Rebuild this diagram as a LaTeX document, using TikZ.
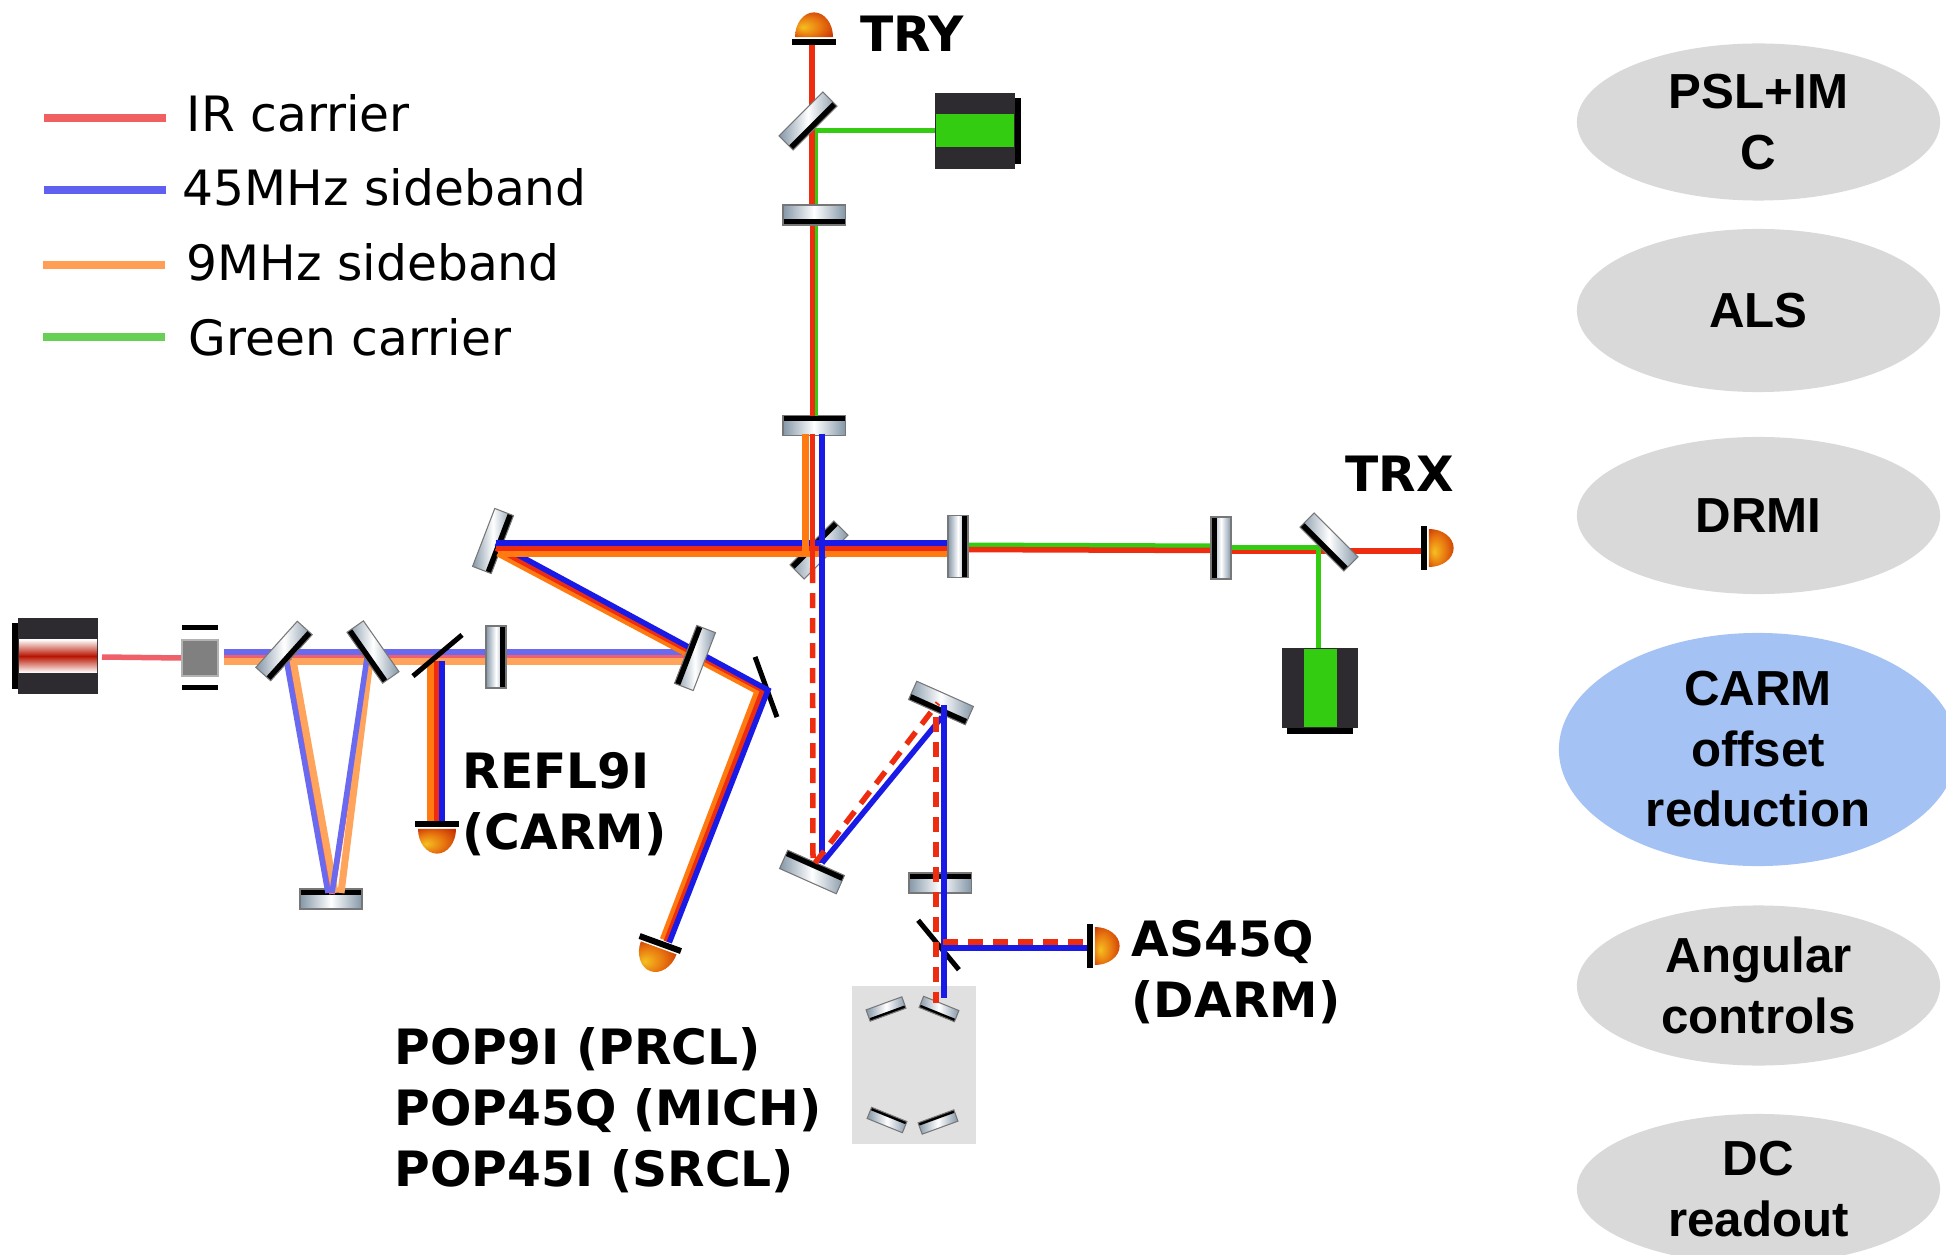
\documentclass[tikz,border=0pt]{standalone}
\usepackage{fontspec}
\setmainfont{DejaVu Sans}
\newfontfamily\taskfont{Liberation Sans}
\usepackage{xcolor}
\usepackage{tikz}
\usetikzlibrary{positioning,calc,shapes.geometric}
\definecolor{irdeep}{HTML}{EE2D10}
\definecolor{bluedeep}{HTML}{1A1AE6}
\definecolor{orangedeep}{HTML}{FF7A10}
\definecolor{irlight}{HTML}{F0606A}
\definecolor{bluelight}{HTML}{6A6AF0}
\definecolor{orangelight}{HTML}{FFA45C}
\definecolor{greenbeam}{HTML}{33CC10}
\definecolor{legred}{HTML}{F06060}
\definecolor{legblue}{HTML}{6060F0}
\definecolor{legorange}{HTML}{FF9E55}
\definecolor{leggreen}{HTML}{66D055}
\definecolor{mirrorgray}{HTML}{8497A8}
\definecolor{mirrorline}{HTML}{777777}
\definecolor{laserbody}{HTML}{2D2A30}
\definecolor{laserred}{HTML}{B81400}
\definecolor{taskgray}{HTML}{D9D9D9}
\definecolor{taskblue}{HTML}{A4C2F4}
\definecolor{domeyellow}{HTML}{F5C020}
\definecolor{domeorange}{HTML}{E87810}
\definecolor{domered}{HTML}{C02000}
\pgfdeclareradialshading{dome}{\pgfpoint{-15bp}{-5bp}}{color(0bp)=(domeyellow);color(18bp)=(domeorange);color(40bp)=(domered);color(50bp)=(domered)}
\pgfdeclarelayer{under}
\pgfdeclarelayer{over}
\pgfsetlayers{under,main,over}
\tikzset{mirror/.style={rectangle,draw=mirrorline,line width=.3pt,left color=mirrorgray,right color=mirrorgray,middle color=white,minimum width=.62cm,minimum height=.2cm,inner sep=0pt,path picture={\fill[black] (-1cm,-1cm) rectangle (1cm,#1);}},
    mirror/.default=-.04cm,
    small mirror/.style={mirror=-.03cm,minimum width=.38cm,minimum height=.12cm},
    thin mirror/.style={rectangle,fill=black,minimum width=.64cm,minimum height=.05cm,inner sep=0pt},
    detector/.style={semicircle,shade,shading=dome,minimum width=.38cm,inner sep=0pt,anchor=chord center,rotate=#1,yscale=1.3,transform shape},
    det bar/.style={rectangle,fill=black,minimum width=.44cm,minimum height=.06cm,inner sep=0pt,anchor=north},
    eom bar/.style={rectangle,fill=black,minimum width=.35cm,minimum height=.05cm,inner sep=0pt},
    ir/.style={draw=irdeep,line width=.055cm},
    ir dash/.style={draw=irdeep,line width=.055cm,dash pattern=on .15cm off .1cm},
    sb45/.style={draw=bluedeep,line width=.055cm},
    sb9/.style={draw=orangedeep,line width=.07cm},
    ir soft/.style={draw=irlight,line width=.055cm},
    sb45 soft/.style={draw=bluelight,line width=.055cm},
    sb9 soft/.style={draw=orangelight,line width=.07cm},
    green/.style={draw=greenbeam,line width=.05cm},
    legend line/.style={line width=.08cm},
    legend text/.style={anchor=base west,inner sep=0pt,font=\fontsize{13.85pt}{17pt}\selectfont},
    tag/.style={anchor=base west,inner sep=0pt,font=\fontsize{13.85pt}{17pt}\selectfont\bfseries},
    task/.style={ellipse,fill=taskgray,minimum width=3.63cm,minimum height=1.57cm,inner sep=-.2cm,align=center,font=\taskfont\fontsize{14pt}{17.2pt}\selectfont\bfseries},
    red band/.style={top color=white,bottom color=white,middle color=laserred},
    green band/.style={fill=greenbeam},
    pics/laser/.style={code={
        \fill[laserbody] (-40,-38) rectangle (40,38);
        \fill[black] (-46,-33) rectangle (-40,33);
        \path[#1] (-39,-16.5) rectangle (39,16.5);
        \coordinate (-out) at (40,0);
    }},
}
\begin{document}
\begin{tikzpicture}[x=.01cm,y=.01cm]
    \useasboundingbox (0,0) rectangle (1946,-1255);

    \begin{pgfonlayer}{under}
    \node[rectangle,fill=black!12,minimum width=1.24cm,minimum height=1.58cm,inner sep=0pt] (omcbox) at (914,-1065) {};
    \node[mirror,rotate=180] (itmy) at (814,-425.5) {};
    \node[mirror,rotate=225] (bs) at (819,-550) {};
    \node[mirror,rotate=69] (pr2) at (493,-541) {};
    \node[thin mirror,rotate=-70] (steer) at (766,-687) {};
    \node[mirror,rotate=156] (sr2) at (812,-872) {};
    \node[mirror,rotate=-24] (sr3) at (941,-703) {};
    \node[mirror,rotate=180] (omi) at (940,-883) {};
    \node[thin mirror,rotate=-50.5] (opick) at (938.5,-945) {};
    \node[small mirror,rotate=20] (omc1) at (886,-1009) {};
    \node[small mirror,rotate=-22] (omc2) at (939,-1009) {};
    \node[small mirror,rotate=158] (omc3) at (887,-1120) {};
    \node[small mirror,rotate=200] (omc4) at (938,-1122) {};
    \node[mirror,rotate=180] (mc2) at (331,-899) {};
    \end{pgfonlayer}

    \begin{pgfonlayer}{over}
    \pic (lm) at (58,-656) {laser=red band};
    \pic[rotate=180] (ly) at (975,-131) {laser=green band};
    \pic[rotate=90] (lx) at (1320,-688) {laser=green band};
    \node[rectangle,fill=gray,draw=black!30,line width=.3pt,minimum size=.36cm,inner sep=0pt] (eom) at (200,-658) {};
    \node[eom bar,above=.09cm of eom] (eomt) {};
    \node[eom bar,below=.08cm of eom] (eomb) {};
    \node[mirror,rotate=48] (mc1) at (284,-651) {};
    \node[mirror,rotate=-55] (mc3) at (373,-652) {};
    \node[thin mirror,rotate=40] (pick) at (437.5,-655.5) {};
    \node[mirror,rotate=90] (mmt) at (496,-657) {};
    \node[mirror,rotate=249] (prm) at (695,-658) {};
    \node[mirror,rotate=45] (tbsy) at (808,-121) {};
    \node[mirror] (etmy) at (814,-215) {};
    \node[mirror,rotate=90] (itmx) at (958,-546.5) {};
    \node[mirror,rotate=270] (etmx) at (1221,-548) {};
    \node[mirror,rotate=-45] (tbsx) at (1329,-542) {};

    \node[detector=0] (dtry) at (814,-38) {};
    \node[det bar] (btry) at (dtry.chord center) {};
    \node[detector=-90] (dtrx) at (1428,-548) {};
    \node[det bar,rotate=-90] (btrx) at (dtrx.chord center) {};
    \node[detector=180] (drefl) at (437,-828) {};
    \node[det bar,rotate=180] (brefl) at (drefl.chord center) {};
    \node[detector=160] (dpop) at (659,-947) {};
    \node[det bar,rotate=160] (bpop) at (dpop.chord center) {};
    \node[detector=-90] (das) at (1094,-946) {};
    \node[det bar,rotate=-90] (bas) at (das.chord center) {};
    \end{pgfonlayer}

    \draw[ir soft] ($(lm-out)+(4,-1)$) -- (eom.west);
    \draw[ir soft] ($(eom.east)+(5,1)$) -- ($(prm)+(-5,1)$);
    \draw[sb45 soft] ($(eom.east)+(5,6)$) -- ($(prm)+(-5,6)$);
    \draw[sb9 soft] ($(eom.east)+(5,-3)$) -- ($(prm)+(-5,-3)$);

    \draw[ir soft] ($(mc1)+(5,-8)$) -- ($(mc2)+(1,5)$);
    \draw[ir soft] ($(mc2)+(1,5)$) -- ($(mc3)+(-4.5,-7)$);
    \draw[sb9 soft] ($(mc1)+(9,-9)$) -- ($(mc2)+(4,6)$);
    \draw[sb45 soft] ($(mc1)+(2,-7)$) -- ($(mc2)+(-3,6)$);
    \draw[sb9 soft] ($(mc2)+(10,6)$) -- ($(mc3)+(-3,-8)$);
    \draw[sb45 soft] ($(mc2)+(1,6)$) -- ($(mc3)+(-6,-6)$);

    \draw[sb9] ($(pick)+(-7.5,-5)$) -- ($(brefl)+(-7,3)$);
    \draw[ir] ($(pick)+(-.5,-5)$) -- ($(brefl)+(0,3)$);
    \draw[sb45] ($(pick)+(4.5,-5)$) -- ($(brefl)+(5,3)$);

    \draw[sb9,line join=miter] ($(pr2)+(5,-12)$) -- ($(steer)+(-8,-4)$) -- ($(bpop)+(3,4)$);
    \draw[ir] ($(pr2)+(3,-7)$) -- ($(steer)+(-3,-3)$) -- ($(bpop)+(6,2)$);
    \draw[sb45] ($(pr2)+(3,-2)$) -- ($(steer)+(2,-3)$) -- ($(bpop)+(9,1)$);

    \draw[sb9] ($(pr2)+(5,-12)$) -- ($(itmx)+(0,-6.5)$);
    \draw[ir] ($(pr2)+(3,-7)$) -- ($(itmx)+(0,-1.5)$);
    \draw[sb45] ($(pr2)+(3,-2)$) -- ($(itmx)+(0,3.5)$);

    \draw[sb9] ($(itmy)+(-9,-8)$) -- ($(bs)+(-14,-5)$);
    \draw[ir] ($(itmy)+(-1.5,-8)$) -- ($(bs)+(-6.5,-18)$);
    \draw[ir dash] ($(bs)+(-6.5,-18)$) -- ($(sr2)+(1,9)$);
    \draw[sb45] ($(itmy)+(8,-8)$) -- ($(sr2)+(10,9)$);

    \draw[ir dash] ($(sr2)+(3,9)$) -- ($(sr3)+(-3,0)$);
    \draw[sb45] ($(sr2)+(10,9)$) -- ($(sr3)+(1,-14)$);
    \draw[ir dash] ($(sr3)+(-5,-14)$) -- ($(omc2)+(-3,6)$);
    \draw[sb45] ($(sr3)+(3,-2)$) -- ($(omc2)+(5,11)$);
    \draw[ir dash] ($(opick)+(4.5,3)$) -- ($(bas)+(-3,4)$);
    \draw[sb45] ($(opick)+(4.5,-3)$) -- ($(bas)+(-3,-2)$);

    \draw[green] (ly-out) -| ($(etmy)+(1,0)$);
    \draw[green] ($(etmy)+(1.5,0)$) -- ($(itmy)+(1.5,10)$);
    \draw[ir] ($(etmy)+(-1.5,0)$) -- ($(itmy)+(-1.5,10)$);
    \draw[ir] ($(etmy)+(-2,0)$) -- ($(btry)+(-2,0)$);

    \draw[green] ($(itmx)+(0,1.5)$) -- ($(etmx)+(0,2)$);
    \draw[ir] ($(itmx)+(0,-3)$) -- ($(etmx)+(0,-2.5)$);
    \draw[ir] ($(etmx)+(0,-3)$) -- ($(btrx)+(0,-3)$);
    \draw[green] ($(lx-out)+(-2,0)$) |- ($(etmx)+(0,1)$);

    \coordinate (ira) at (44,-118);
    \coordinate (irb) at (166,-118);
    \coordinate (sba) at (44,-190);
    \coordinate (sbb) at (166,-190);
    \coordinate (nia) at (43,-265);
    \coordinate (nib) at (165,-265);
    \coordinate (gra) at (43,-337);
    \coordinate (grb) at (165,-337);
    \draw[legend line,legred] (ira) -- (irb);
    \draw[legend line,legblue] (sba) -- (sbb);
    \draw[legend line,legorange] (nia) -- (nib);
    \draw[legend line,leggreen] (gra) -- (grb);
    \node[legend text] (lir) at (186,-132) {IR carrier};
    \node[legend text] (lsb) at (182,-206) {45MHz sideband};
    \node[legend text] (lni) at (186,-281) {9MHz sideband};
    \node[legend text] (lgr) at (188,-356) {Green carrier};

    \node[tag] (ttry) at (860,-52) {TRY};
    \node[tag] (ttrx) at (1345,-491) {TRX};
    \node[tag] (trefl) at (462,-788) {REFL9I};
    \node[tag] (tcarm) at (462,-849) {(CARM)};
    \node[tag] (tas) at (1131,-956) {AS45Q};
    \node[tag] (tdarm) at (1131,-1017) {(DARM)};
    \node[tag] (tpa) at (394,-1064) {POP9I (PRCL)};
    \node[tag] (tpb) at (394,-1125) {POP45Q (MICH)};
    \node[tag] (tpc) at (394,-1186) {POP45I (SRCL)};

    \begin{scope}
    \clip (0,0) rectangle (1946,-1255);
    \node[task] (psl) at (1758.5,-122) {PSL+IM\\C};
    \node[task,minimum height=1.63cm] (als) at (1758.5,-310.5) {ALS};
    \node[task] (drmi) at (1758.5,-515.5) {DRMI};
    \node[task,fill=taskblue,minimum width=3.98cm,minimum height=2.33cm] (carm) at (1758,-749.5) {CARM\\offset\\reduction};
    \node[task,minimum height=1.6cm] (ang) at (1758.5,-985.5) {Angular\\controls};
    \node[task,minimum height=1.5cm] (dc) at (1758.5,-1189) {DC\\readout};
    \end{scope}
\end{tikzpicture}
\end{document}
